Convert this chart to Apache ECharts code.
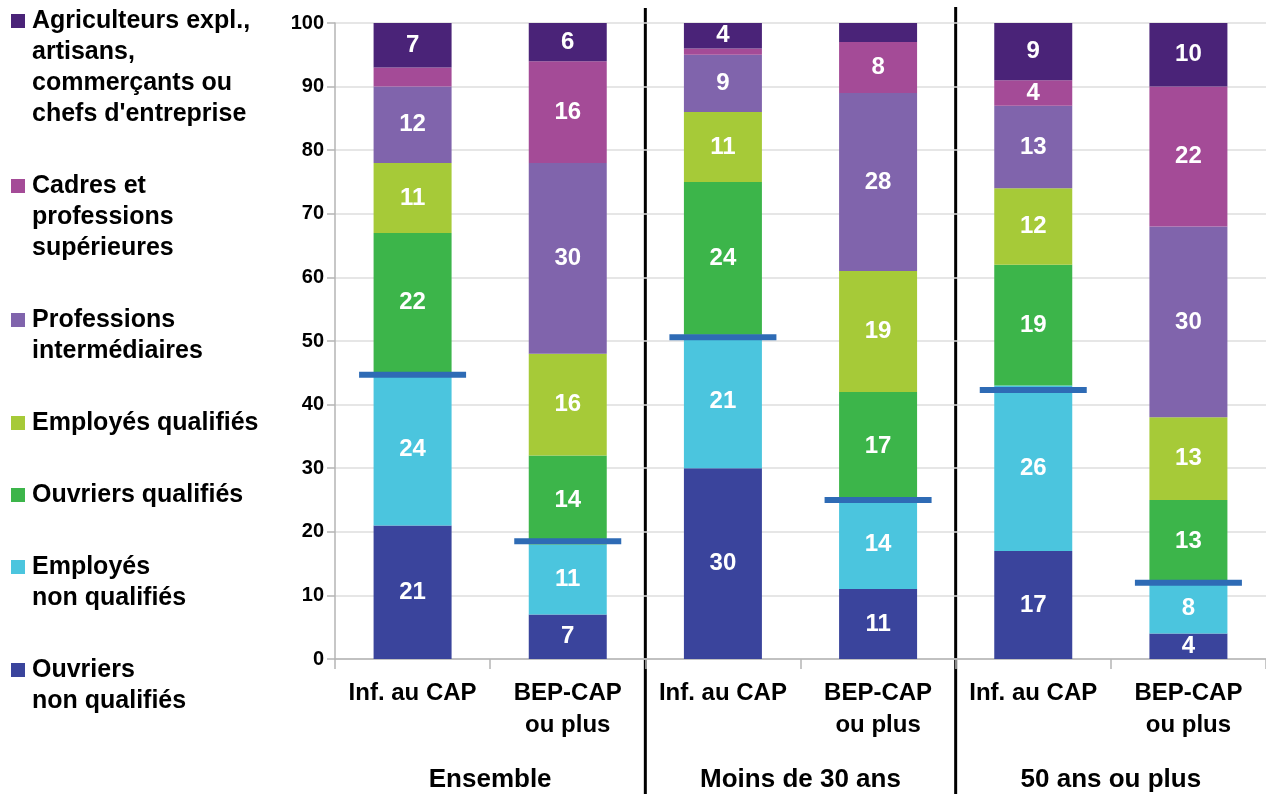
<!DOCTYPE html>
<html><head><meta charset="utf-8">
<script src="https://cdn.jsdelivr.net/npm/echarts@6/dist/echarts.min.js"></script>
<style>html,body{margin:0;padding:0;background:#fff}#c{width:1266px;height:794px}</style>
</head><body><div id="c"></div>
<script>
const categories = ['Inf. au CAP','BEP-CAP\nou plus','Inf. au CAP','BEP-CAP\nou plus','Inf. au CAP','BEP-CAP\nou plus'];
const groups = ['Ensemble','Moins de 30 ans','50 ans ou plus'];
const ouvriersNonQualifies = [21, 7, 30, 11, 17, 4];
const employesNonQualifies = [24, 11, 21, 14, 26, 8];
const ouvriersQualifies = [22, 14, 24, 17, 19, 13];
const employesQualifies = [11, 16, 11, 19, 12, 13];
const professionsIntermediaires = [12, 30, 9, 28, 13, 30];
const cadres = [3, 16, 1, 8, 4, 22];
const agriculteurs = [7, 6, 4, 3, 9, 10];
const nonQualifiesTotal = [44.7, 18.5, 50.6, 25.0, 42.3, 12.0];

const FONT = '"Liberation Sans", Arial, sans-serif';
const seriesDefs = [
  {name: 'Ouvriers non qualifiés', lines: ['Ouvriers', 'non qualifiés'], data: ouvriersNonQualifies, color: '#3A449C'},
  {name: 'Employés non qualifiés', lines: ['Employés', 'non qualifiés'], data: employesNonQualifies, color: '#4BC5DE'},
  {name: 'Ouvriers qualifiés', lines: ['Ouvriers qualifiés'], data: ouvriersQualifies, color: '#3CB54A'},
  {name: 'Employés qualifiés', lines: ['Employés qualifiés'], data: employesQualifies, color: '#A6CA38'},
  {name: 'Professions intermédiaires', lines: ['Professions', 'intermédiaires'], data: professionsIntermediaires, color: '#8064AC'},
  {name: 'Cadres et professions supérieures', lines: ['Cadres et', 'professions', 'supérieures'], data: cadres, color: '#A44B97'},
  {name: "Agriculteurs expl., artisans, commerçants ou chefs d'entreprise", lines: ['Agriculteurs expl.,', 'artisans,', 'commerçants ou', "chefs d'entreprise"], data: agriculteurs, color: '#4A2378'}
];

const chart = echarts.init(document.getElementById('c'), null, {renderer: 'canvas'});

const series = seriesDefs.map(s => ({
  name: s.name, type: 'bar', stack: 'total', barWidth: 78,
  data: s.data,
  itemStyle: {color: s.color},
  emphasis: {disabled: true},
  label: {
    show: true, position: 'inside', color: '#fff', fontFamily: FONT, fontWeight: 'bold', fontSize: 24,
    formatter: p => (p.value >= 4 ? String(p.value) : '')
  }
}));
series.push({
  name: 'Total non qualifiés', type: 'scatter', symbol: 'rect', symbolSize: [107, 6],
  data: nonQualifiesTotal, itemStyle: {color: '#2E6BB5', opacity: 1}, z: 10,
  emphasis: {disabled: true}, silent: true
});

// legend built as graphic (top to bottom)
const legendEls = [];
let yCur = 6;
const LH = 31;
seriesDefs.slice().reverse().forEach(s => {
  legendEls.push({type: 'rect', left: 11, top: yCur + 8, shape: {width: 14, height: 14}, style: {fill: s.color}, silent: true});
  legendEls.push({type: 'text', left: 32, top: yCur, style: {text: s.lines.join('\n'), font: 'bold 25px ' + FONT, lineHeight: LH, fill: '#000'}, silent: true});
  yCur += s.lines.length * LH + 41;
});

chart.setOption({
  animation: false,
  grid: {left: 335, right: 0, top: 23, bottom: 135},
  xAxis: [{
    type: 'category', data: categories,
    axisLine: {lineStyle: {color: '#b5b5b5', width: 1.5}},
    axisTick: {show: true, length: 10, lineStyle: {color: '#b5b5b5', width: 1.5}},
    axisLabel: {color: '#000', fontFamily: FONT, fontWeight: 'bold', fontSize: 24, margin: 18, lineHeight: 32, interval: 0}
  }, {
    type: 'category', data: groups, position: 'bottom',
    axisLine: {show: false}, axisTick: {show: false},
    axisLabel: {color: '#000', fontFamily: FONT, fontWeight: 'bold', fontSize: 26, margin: 108, interval: 0}
  }],
  yAxis: {
    type: 'value', min: 0, max: 100, interval: 10,
    axisLine: {show: true, lineStyle: {color: '#b5b5b5', width: 1.5}},
    axisTick: {show: true, length: 8, lineStyle: {color: '#b5b5b5', width: 1.5}},
    splitLine: {lineStyle: {color: '#dedede', width: 1.5}},
    axisLabel: {color: '#000', fontFamily: FONT, fontWeight: 'bold', fontSize: 20, margin: 11}
  },
  series: series,
  graphic: legendEls
});

// separators between groups
const seps = [];
[[1, 2], [3, 4]].forEach(([a, b], i) => {
  const x = (chart.convertToPixel({xAxisIndex: 0}, a) + chart.convertToPixel({xAxisIndex: 0}, b)) / 2;
  seps.push({type: 'line', shape: {x1: x, y1: 8 - i, x2: x, y2: 794}, style: {stroke: '#000', lineWidth: 3}, silent: true});
});
chart.setOption({graphic: legendEls.concat(seps)});
</script></body></html>
